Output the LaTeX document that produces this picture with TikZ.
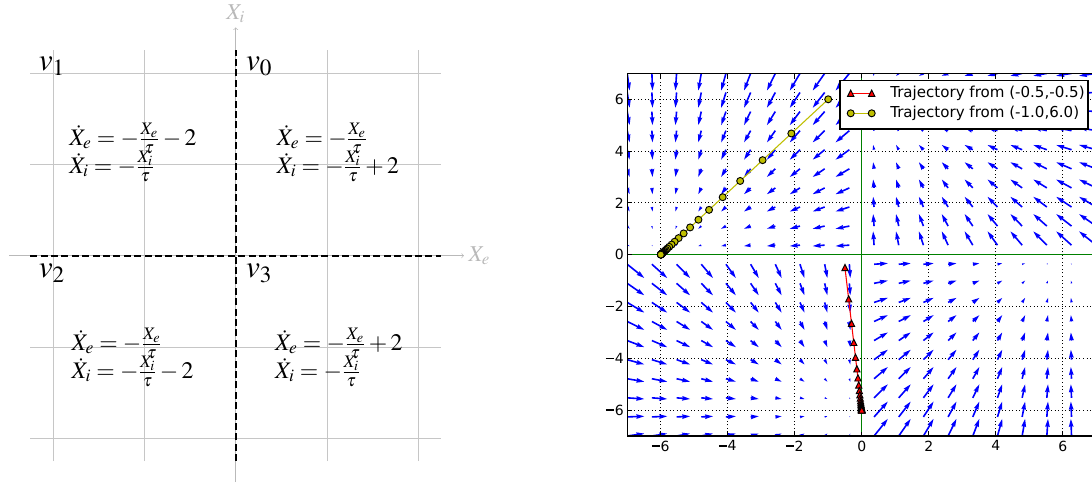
\documentclass[tikz,border=0pt]{standalone}
\usepackage[no-math]{fontspec}
\usepackage{mathptmx}
\newfontfamily\dejavu{DejaVu Sans}
\newcommand\tminus{\rule[0.315em]{0.56em}{0.1em}\hspace{0.08em}}
\tikzset{
  lgrid/.style={gray!45, line width=0.7pt},
  laxis/.style={gray!55, line width=0.45pt, ->},
  alab/.style={text=gray!55, font=\fontsize{17}{20}\selectfont},
  sepline/.style={black, line width=1.7pt, dash pattern=on 5.2pt off 2.6pt},
  eq/.style={font=\fontsize{17.8}{21}\selectfont, anchor=base west, inner sep=0pt},
  vlab/.style={font=\fontsize{23.5}{28}\selectfont, anchor=base west, inner sep=0pt},
  qv/.style={fill={rgb,1:red,0;green,0;blue,1}},
  dgrid/.style={black, line width=0.6pt, dash pattern=on 0.75pt off 1.9pt},
  gline/.style={draw={rgb,1:red,0;green,0.5;blue,0}, line width=1.1pt},
  frame/.style={black, line width=0.8pt},
  ticklab/.style={font=\dejavu\fontsize{10.5}{12}\selectfont, inner sep=0pt},
  leg/.style={font=\dejavu\fontsize{11.3}{13}\selectfont, inner sep=0pt, anchor=west},
  rline/.style={draw={rgb,1:red,1;green,0;blue,0}, line width=0.8pt},
  yline/.style={draw={rgb,1:red,0.75;green,0.75;blue,0}, line width=0.8pt},
  rmark/.style={fill={rgb,1:red,1;green,0;blue,0}, draw=black, line width=0.7pt},
  ymark/.style={fill={rgb,1:red,0.75;green,0.75;blue,0}, draw=black, line width=0.7pt}
}
\begin{document}
\begin{tikzpicture}[x=0.75pt,y=0.75pt]
\useasboundingbox (0,0) rectangle (1092,482);
\fill[white] (0,0) rectangle (1092,482);

% ---------------- left diagram ----------------
\begin{scope}[shift={(235.7,226.3)}, x=68.475pt, y=68.475pt]
  \draw[lgrid, step=1] (-2.25,-2.25) grid (2.25,2.25);
  \coordinate (xl) at (-2.48,0);
  \coordinate (xr) at (2.5,0);
  \coordinate (yb) at (0,-2.48);
  \coordinate (yt) at (0,2.5);
  \draw[laxis] (xl) -- (xr);
  \draw[laxis] (yb) -- (yt);
  \node[alab, anchor=west] (xlab) at (xr) {$X_e$};
  \node[alab, anchor=south] (ylab) at (yt) {$X_i$};
  \coordinate (hl) at (-2.25,0);
  \coordinate (hr) at (2.25,0);
  \coordinate (vb) at (0,-2.25);
  \coordinate (vt) at (0,2.25);
  \draw[sepline] (hl) -- (hr);
  \draw[sepline] (vb) -- (vt);
  \node[vlab] (v1) at (-2.16,2.023) {$v_1$};
  \node[vlab] (v0) at (0.11,2.023) {$v_0$};
  \node[vlab] (v2) at (-2.16,-0.244) {$v_2$};
  \node[vlab] (v3) at (0.11,-0.244) {$v_3$};
  \node[eq] (e1a) at (-1.826,1.212) {$\dot{X}_e=-\frac{X_e}{\tau}-2$};
  \node[eq] (e1b) at (-1.826,0.903) {$\dot{X}_i=-\frac{X_i}{\tau}$};
  \node[eq] (e0a) at (0.449,1.212) {$\dot{X}_e=-\frac{X_e}{\tau}$};
  \node[eq] (e0b) at (0.449,0.903) {$\dot{X}_i=-\frac{X_i}{\tau}+2$};
  \node[eq] (e2a) at (-1.80,-1.033) {$\dot{X}_e=-\frac{X_e}{\tau}$};
  \node[eq] (e2b) at (-1.80,-1.34) {$\dot{X}_i=-\frac{X_i}{\tau}-2$};
  \node[eq] (e3a) at (0.43,-1.033) {$\dot{X}_e=-\frac{X_e}{\tau}+2$};
  \node[eq] (e3b) at (0.43,-1.34) {$\dot{X}_i=-\frac{X_i}{\tau}$};
\end{scope}

% ---------------- right plot ----------------
% dotted grid
\foreach \t in {-6,-4,...,6}{
  \pgfmathsetmacro\gx{861.7+33.5*\t}
  \pgfmathsetmacro\gy{227.3+25.9*\t}
  \draw[dgrid] (\gx,46) -- (\gx,408.7);
  \draw[dgrid] (627.2,\gy) -- (1096.2,\gy);
}
\coordinate (gl) at (627.2,227.3);
\coordinate (gr) at (1096.2,227.3);
\coordinate (gb) at (861.7,46);
\coordinate (gt) at (861.7,408.7);
\draw[gline] (gl) -- (gr);
\draw[gline] (gb) -- (gt);

% quiver
\begin{scope}
\clip (627.2,46) rectangle (1096.2,408.7);
\foreach \i in {0,...,19}{
  \foreach \j in {0,...,19}{
    \pgfmathsetmacro\xx{-7+\i*14/19}
    \pgfmathsetmacro\yy{-7+\j*14/19}
    \pgfmathsetmacro\uu{(\xx<0) ? ((\yy>0) ? (-(\xx)/3-2) : (-(\xx)/3)) : ((\yy>0) ? (-(\xx)/3) : (-(\xx)/3+2))}
    \pgfmathsetmacro\vv{(\xx<0) ? ((\yy>0) ? (-(\yy)/3) : (-(\yy)/3-2)) : ((\yy>0) ? (-(\yy)/3+2) : (-(\yy)/3))}
    \pgfmathsetmacro\LL{7.3*veclen(\uu,\vv)}
    \pgfmathsetmacro\ang{atan2(\vv,\uu)}
    \pgfmathsetmacro\ss{min(1,\LL/8)}
    \pgfmathsetmacro\Lb{max(\LL,8)}
    \pgfmathsetmacro\px{861.7+33.5*\xx}
    \pgfmathsetmacro\py{227.3+25.9*\yy}
    \fill[qv, shift={(\px,\py)}, rotate=\ang, scale=\ss]
      (0,0.8) -- ({\Lb-7.2},0.8) -- ({\Lb-8},2.4) -- (\Lb,0)
      -- ({\Lb-8},-2.4) -- ({\Lb-7.2},-0.8) -- (0,-0.8) -- cycle;
  }
}
\end{scope}

% trajectories
\draw[yline] plot[variable=\n, samples at={0,...,30}] ({861.7+33.5*(-6+5*0.78^\n)},{227.3+25.9*6*0.78^\n});
\foreach \n in {0,...,30}{
  \pgfmathsetmacro\px{861.7+33.5*(-6+5*0.78^\n)}
  \pgfmathsetmacro\py{227.3+25.9*6*0.78^\n}
  \filldraw[ymark] (\px,\py) circle[radius=3.5];
}
\draw[rline] plot[variable=\n, samples at={0,...,30}] ({861.7+33.5*(-0.5*0.78^\n)},{227.3+25.9*(-6+5.5*0.78^\n)});
\foreach \n in {0,...,30}{
  \pgfmathsetmacro\px{861.7+33.5*(-0.5*0.78^\n)}
  \pgfmathsetmacro\py{227.3+25.9*(-6+5.5*0.78^\n)}
  \filldraw[rmark] (\px,\py) +(0,3.2) -- +(-3.1,-3.0) -- +(3.1,-3.0) -- cycle;
}

% frame
\draw[frame] (1096.2,46) -- (627.2,46) -- (627.2,408.7) -- (1096.2,408.7);

% ticks and labels
\foreach \t/\lab in {-6/\tminus6,-4/\tminus4,-2/\tminus2,0/0,2/2,4/4,6/6}{
  \pgfmathsetmacro\gx{861.7+33.5*\t}
  \pgfmathsetmacro\gy{227.3+25.9*\t}
  \draw[frame] (\gx,46) -- ++(0,4.4);
  \draw[frame] (\gx,408.7) -- ++(0,-4.4);
  \draw[frame] (627.2,\gy) -- ++(4.4,0);
  \node[ticklab, anchor=north] at (\gx,41.5) {\lab};
  \node[ticklab, anchor=east] at (624,\gy) {\lab};
}

% legend
\draw[black, line width=0.8pt, fill=white] (840,353) rectangle (1088,401.3);
\coordinate (la) at (850.7,388.7);
\coordinate (lb) at (871.7,388.7);
\coordinate (lc) at (850.7,368.7);
\coordinate (ld) at (871.7,368.7);
\draw[rline] (la) -- (lb);
\filldraw[rmark] (la) +(0,3.2) -- +(-3.1,-3.0) -- +(3.1,-3.0) -- cycle;
\filldraw[rmark] (lb) +(0,3.2) -- +(-3.1,-3.0) -- +(3.1,-3.0) -- cycle;
\draw[yline] (lc) -- (ld);
\filldraw[ymark] (lc) circle[radius=3.5];
\filldraw[ymark] (ld) circle[radius=3.5];
\node[leg] (t1) at (890,388.7) {Trajectory from (-0.5,-0.5)};
\node[leg] (t2) at (890,368.7) {Trajectory from (-1.0,6.0)};
\end{tikzpicture}
\end{document}
